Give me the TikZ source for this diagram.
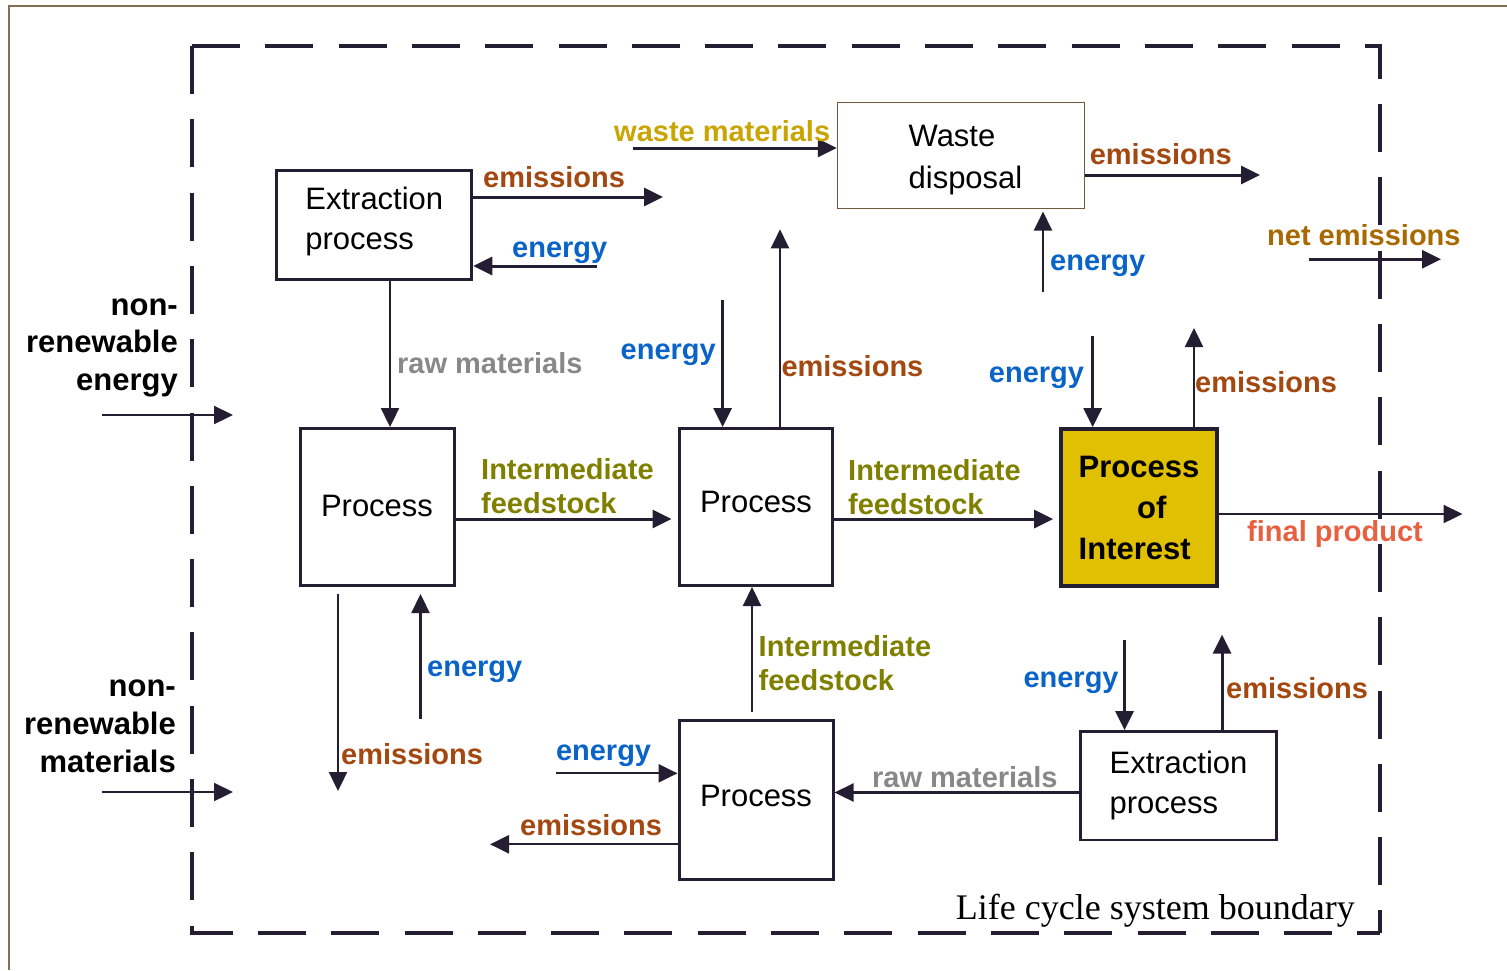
\documentclass[tikz,border=0pt]{standalone}
\usepackage{fontspec}
\setmainfont{Liberation Sans}
\newfontfamily\boundaryfont{Liberation Serif}
\usetikzlibrary{arrows.meta}
\definecolor{linecol}{RGB}{35,30,50}
\definecolor{framecol}{RGB}{130,112,85}
\definecolor{wastebord}{RGB}{110,90,60}
\definecolor{poifill}{RGB}{224,192,0}
\definecolor{emcol}{RGB}{163,72,17}
\definecolor{encol}{RGB}{10,100,200}
\definecolor{rawcol}{RGB}{136,136,136}
\definecolor{feedcol}{RGB}{128,128,0}
\definecolor{wastecol}{RGB}{200,165,0}
\definecolor{netcol}{RGB}{168,105,0}
\definecolor{finalcol}{RGB}{232,96,64}
\newcommand\boxfont{\fontsize{31}{40}\selectfont}
\newcommand\lblfont{\fontsize{29}{34}\selectfont\bfseries}
\begin{document}
\begin{tikzpicture} [x=1pt, y=-1pt, >={Triangle[length=19pt,width=18pt]},
	flow/.style={->, draw=linecol, line width=3pt},
	thinflow/.style={->, draw=linecol, line width=2.3pt},
	procbox/.style={draw=linecol, line width=3pt, inner sep=0pt, align=left, font=\boxfont},
	lbl/.style={anchor=base west, inner sep=0pt, font=\lblfont},
	sidelbl/.style={anchor=north east, inner sep=0pt, align=right},
	feedlbl/.style={anchor=north west, inner sep=0pt, align=left, feedcol},
	boundary/.style={draw=linecol, line width=4pt, dash pattern=on 48pt off 25.3pt}]
	\useasboundingbox (0,0) rectangle (1507,970);
	\draw [framecol, line width=1.5pt] (9,970) -- (9,6) -- (1507,6);
	\draw [boundary] (192,46) -- (1380,46) -- (1380,933);
	\draw [boundary] (192,46) -- (192,933) -- (1380,933);
	\node [procbox, minimum width=195pt, minimum height=108.6pt] (extA) at (374.3,225) {Extraction\\process\rule[-13.5pt]{0pt}{13.5pt}};
	\node [procbox, draw=wastebord, line width=1.5pt, minimum width=247pt, minimum height=105.6pt, font=\fontsize{31}{41.6}\selectfont] (waste) at (961,155.5) {\rule{0pt}{30.2pt}\hspace*{9pt}Waste\\\hspace*{9pt}disposal};
	\node [procbox, minimum width=154pt, minimum height=157pt, text depth=2pt] (procA) at (377,507) {Process};
	\node [procbox, minimum width=153pt, minimum height=157pt, text depth=10pt] (procB) at (756,507) {Process};
	\node [procbox, fill=poifill, line width=4pt, minimum width=155.7pt, minimum height=157pt, font=\fontsize{31}{41}\selectfont\bfseries] (poi) at (1139,507.7) {Process\\\hspace*{58.4pt}of\\Interest};
	\node [procbox, minimum width=154pt, minimum height=159pt, text depth=7pt] (procC) at (756,799.5) {Process};
	\node [procbox, line width=2.5pt, minimum width=195.6pt, minimum height=108.8pt] (extB) at (1178.5,785.8) {Extraction\\process};
	\coordinate (extA-em) at (663,197);
	\coordinate (extA-en) at (597,266);
	\coordinate (rawA) at (390,0);
	\coordinate (nre-in) at (102,415);
	\coordinate (nre-out) at (233,415);
	\coordinate (nrm-in) at (102,792);
	\coordinate (nrm-out) at (233,792);
	\coordinate (feedAB) at (0,519);
	\coordinate (final) at (1462.5,514);
	\coordinate (procA-em) at (338,791);
	\coordinate (procA-en) at (420.5,719);
	\coordinate (procB-en) at (722.6,300);
	\coordinate (procB-em) at (780,229.3);
	\coordinate (waste-in) at (633,148);
	\coordinate (waste-em) at (1260,175);
	\coordinate (waste-en) at (1043,292);
	\coordinate (net-in) at (1309,259.3);
	\coordinate (net-out) at (1441,259.3);
	\coordinate (poi-en) at (1092.7,336);
	\coordinate (poi-em) at (1194,328);
	\coordinate (feedC) at (752,0);
	\coordinate (procC-en) at (555.8,773.3);
	\coordinate (procC-em) at (490,844.3);
	\coordinate (rawB) at (0,792.5);
	\coordinate (extB-en) at (1124.5,640);
	\coordinate (extB-em) at (1222,634.6);
	\draw [flow] (extA.east |- extA-em) -- (extA-em);
	\draw [flow] (extA-en) -- (extA.east |- extA-en);
	\draw [thinflow] (extA.south -| rawA) -- (procA.north -| rawA);
	\draw [thinflow] (nre-in) -- (nre-out);
	\draw [thinflow] (nrm-in) -- (nrm-out);
	\draw [flow, shorten >=6.5pt] (procA.east |- feedAB) -- (procB.west |- feedAB);
	\draw [flow, shorten >=6pt] (procB.east |- feedAB) -- (poi.west |- feedAB);
	\draw [thinflow] (poi.east |- final) -- (final);
	\draw [thinflow, shorten <=7pt] (procA.south -| procA-em) -- (procA-em);
	\draw [thinflow, shorten >=7pt] (procA-en) -- (procA.south -| procA-en);
	\draw [flow] (procB-en) -- (procB.north -| procB-en);
	\draw [thinflow] (procB.north -| procB-em) -- (procB-em);
	\draw [flow] (waste-in) -- (waste.west |- waste-in);
	\draw [flow] (waste.east |- waste-em) -- (waste-em);
	\draw [thinflow, shorten >=2.5pt] (waste-en) -- (waste.south -| waste-en);
	\draw [flow] (net-in) -- (net-out);
	\draw [flow] (poi-en) -- (poi.north -| poi-en);
	\draw [thinflow] (poi.north -| poi-em) -- (poi-em);
	\draw [thinflow, shorten <=7pt] (procC.north -| feedC) -- (procB.south -| feedC);
	\draw [thinflow] (procC-en) -- (procC.west |- procC-en);
	\draw [thinflow] (procC.west |- procC-em) -- (procC-em);
	\draw [thinflow] (extB.west |- rawB) -- (procC.east |- rawB);
	\draw [flow] (extB-en) -- (extB.north -| extB-en);
	\draw [flow] (extB.north -| extB-em) -- (extB-em);
	\node [lbl, emcol] (extA-emL) at (483,187) {emissions};
	\node [lbl, encol] (extA-enL) at (512,257) {energy};
	\node [lbl, rawcol] (rawA-L) at (397,373) {raw materials};
	\node [sidelbl, font=\fontsize{31}{37.5}\selectfont\bfseries] (nre-L) at (178,288.8) {\strut non-\\renewable\\energy};
	\node [sidelbl, font=\fontsize{31}{37.7}\selectfont\bfseries] (nrm-L) at (176,670.3) {\strut non-\\renewable\\materials};
	\node [feedlbl, font=\fontsize{29}{34.3}\selectfont\bfseries] (feedA-L) at (481,455) {\strut Intermediate\\feedstock};
	\node [feedlbl, font=\fontsize{29}{34.5}\selectfont\bfseries] (feedB-L) at (848,455.9) {\strut Intermediate\\feedstock};
	\node [feedlbl, font=\fontsize{29}{34}\selectfont\bfseries] (feedC-L) at (758.5,632.9) {\strut Intermediate\\feedstock};
	\node [lbl, finalcol] (final-L) at (1247,541.4) {final product};
	\node [lbl, emcol] (procA-emL) at (341,764) {emissions};
	\node [lbl, encol] (procA-enL) at (427,676.7) {energy};
	\node [lbl, encol] (procB-enL) at (620.5,359.3) {energy};
	\node [lbl, emcol] (procB-emL) at (781.3,376) {emissions};
	\node [lbl, wastecol] (waste-inL) at (614,141.7) {waste materials};
	\node [lbl, emcol] (waste-emL) at (1089.6,164) {emissions};
	\node [lbl, encol] (waste-enL) at (1050,270) {energy};
	\node [lbl, netcol] (net-L) at (1267,245) {net emissions};
	\node [lbl, encol] (poi-enL) at (988.7,382.7) {energy};
	\node [lbl, emcol] (poi-emL) at (1195,392.7) {emissions};
	\node [lbl, encol] (procC-enL) at (555.8,760) {energy};
	\node [lbl, emcol] (procC-emL) at (520,835) {emissions};
	\node [lbl, rawcol] (rawB-L) at (872,787) {raw materials};
	\node [lbl, encol] (extB-enL) at (1023.3,687) {energy};
	\node [lbl, emcol] (extB-emL) at (1226,698.8) {emissions};
	\node [anchor=base east, inner sep=0pt, font=\boundaryfont\fontsize{36}{40}\selectfont] (bnd-L) at (1355,919.2) {Life cycle system boundary};
\end{tikzpicture}
\end{document}
